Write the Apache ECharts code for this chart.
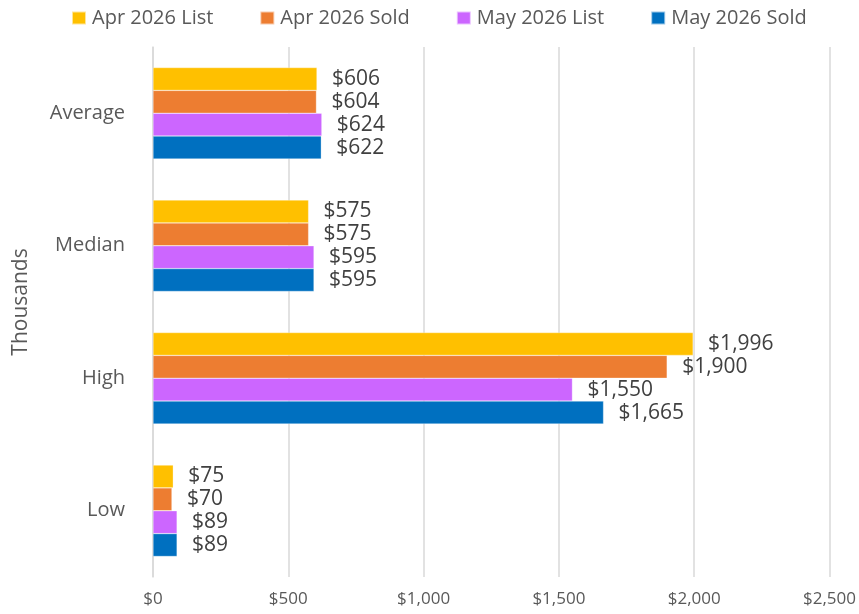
<!DOCTYPE html>
<html>
<head>
<meta charset="utf-8">
<script src="https://cdn.jsdelivr.net/npm/echarts@6/dist/echarts.min.js"></script>
<style>
  html, body { margin: 0; padding: 0; background: #fff; }
  #chart { width: 859px; height: 614px; }
</style>
</head>
<body>
<div id="chart"></div>
<script>
// values in thousands of dollars
const categories = ["Average", "Median", "High", "Low"];
const seriesNames = ["Apr 2026 List", "Apr 2026 Sold", "May 2026 List", "May 2026 Sold"];
const aprList = [606, 575, 1996, 75];
const aprSold = [604, 575, 1900, 70];
const mayList = [624, 595, 1550, 89];
const maySold = [622, 595, 1665, 89];
const colors = ["#FFC000", "#ED7D31", "#CC66FF", "#0070C0"];

const font = "'Open Sans', sans-serif";
const chart = echarts.init(document.getElementById("chart"));

const money = (v) => "$" + v.toLocaleString("en-US");

const allData = [aprList, aprSold, mayList, maySold];

const option = {
  color: colors,
  textStyle: { fontFamily: font },
  legend: {
    data: seriesNames,
    top: 3,
    left: 66,
    itemWidth: 14,
    itemHeight: 13,
    itemGap: 46,
    icon: "rect",
    textStyle: { fontSize: 20, color: "#595959", fontFamily: font, padding: [0, 0, 0, 1] }
  },
  grid: {
    left: 153,
    right: 25,
    top: 47,
    bottom: 37
  },
  xAxis: {
    type: "value",
    min: 0,
    max: 2500,
    interval: 500,
    axisLine: { show: false },
    axisTick: { show: false },
    splitLine: { lineStyle: { color: "#D9D9D9", width: 1.5 } },
    axisLabel: {
      formatter: (v) => money(v),
      fontSize: 17,
      color: "#595959",
      margin: 14
    }
  },
  yAxis: {
    type: "category",
    data: categories,
    inverse: true,
    name: "Thousands",
    nameLocation: "middle",
    nameRotate: 90,
    nameGap: 121,
    nameTextStyle: { fontSize: 21, color: "#595959", padding: [0, 0, 0, 20] },
    axisLine: { show: true, lineStyle: { color: "#D9D9D9", width: 1.5 } },
    axisTick: { show: false },
    axisLabel: { fontSize: 20, color: "#595959", margin: 28 }
  },
  series: seriesNames.map((name, i) => ({
    name: name,
    type: "bar",
    data: allData[i],
    barGap: "0%",
    barCategoryGap: "31%",
    itemStyle: { borderColor: "rgba(255,255,255,0.6)", borderWidth: 0.5 },
    label: {
      show: true,
      position: "right",
      distance: 15,
      fontSize: 21,
      color: "#404040",
      formatter: (p) => money(p.value)
    }
  }))
};

chart.setOption(option);
</script>
</body>
</html>
